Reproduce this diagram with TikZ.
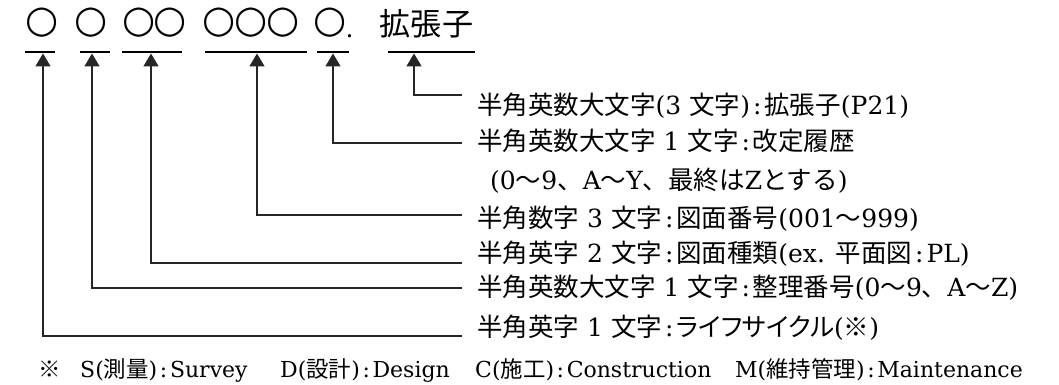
\documentclass[tikz,border=0pt]{standalone}
\usepackage{fontspec}
\setmainfont{DejaVu Serif}
\newfontfamily\jp[Scale=1.02]{Noto Sans CJK JP}
\newfontfamily\jpp[Scale=1.02,RawFeature=+palt]{Noto Sans CJK JP}
\newfontfamily\dvs{DejaVu Sans}
\usetikzlibrary{arrows.meta}
\newcommand\J[1]{{\jp #1}}
\newcommand\JP[1]{{\jpp #1}}
\newcommand\cl{\hspace{0.12em}:\hspace{0.12em}}
\begin{document}
\begin{tikzpicture}[x=1pt,y=-1pt,
  circ/.style={font=\dvs\fontsize{38}{38}\selectfont, inner sep=0pt, anchor=base},
  top/.style={font=\jp\fontsize{30.5}{30.5}\selectfont, inner sep=0pt, anchor=base},
  body/.style={font=\fontsize{25}{25}\selectfont, inner sep=0pt, anchor=base west},
  note/.style={font=\fontsize{22}{22}\selectfont, inner sep=0pt, anchor=base west},
  conn/.style={line width=1.8pt, draw=black!85, -{Triangle[length=13pt,width=15pt]}},
  uline/.style={line width=2.4pt, draw=black}]
\useasboundingbox (0,0) rectangle (1059,385);
% top row
\node[circ] (c1) at (41.7,32.6) {○};
\node[circ] (c2) at (90.8,32.6) {○};
\node[circ] (c3a) at (139,32.6) {○};
\node[circ] (c3b) at (169.6,32.6) {○};
\node[circ] (c4a) at (219,32.6) {○};
\node[circ] (c4b) at (251,32.6) {○};
\node[circ] (c4c) at (283,32.6) {○};
\node[circ] (c5) at (330,32.6) {○};
\node[top, font=\fontsize{25}{25}\selectfont] (dot) at (349.5,38) {.};
\node[top] (ext) at (426.5,36) {拡張子};
% underlines
\draw[uline] (25,52) -- (55,52);
\draw[uline] (80,52) -- (110,52);
\draw[uline] (122,52) -- (182,52);
\draw[uline] (205,52) -- (307,52);
\draw[uline] (317,52) -- (349,52);
\draw[uline] (388,52) -- (475,52);
% arrow tips
\coordinate (a1) at (43,53.5);
\coordinate (a2) at (92,53.5);
\coordinate (a3) at (151,53.5);
\coordinate (a4) at (257,53.5);
\coordinate (a5) at (333,53.5);
\coordinate (a6) at (414,53.5);
% line ends
\coordinate (e6) at (462,95);
\coordinate (e5) at (462,143);
\coordinate (e4) at (462,215);
\coordinate (e3) at (462,263);
\coordinate (e2) at (462,288);
\coordinate (e1) at (462,336);
\draw[conn] (e6) -| (a6);
\draw[conn] (e5) -| (a5);
\draw[conn] (e4) -| (a4);
\draw[conn] (e3) -| (a3);
\draw[conn] (e2) -| (a2);
\draw[conn] (e1) -| (a1);
% texts
\node[body] (t1) at (477,114) {\J{半角英数大文字}(3 \J{文字})\cl\J{拡張子}(P21)};
\node[body] (t2) at (477,150) {\J{半角英数大文字} 1 \J{文字}\cl\J{改定履歴}};
\node[body] (t3) at (490,189) {(0\J{〜}9\J{、}A\J{〜}Y\J{、最終は}Z\J{とする})};
\node[body] (t4) at (477,227) {\J{半角数字} 3 \J{文字}\cl\J{図面番号}(001\J{〜}999)};
\node[body] (t5) at (477,262) {\J{半角英字} 2 \J{文字}\cl\J{図面種類}(ex. \J{平面図}\cl PL)};
\node[body] (t6) at (477,296) {\J{半角英数大文字} 1 \J{文字}\cl\J{整理番号}(0\J{〜}9\J{、}A\J{〜}Z)};
\node[body] (t7) at (477,336) {\J{半角英字} 1 \J{文字}\cl\JP{ライフサイクル}(\J{※})};
% footnote
\node[note, anchor=base] (n0) at (50,377) {\J{※}};
\node[note] (n1) at (80,377) {S(\J{測量})\cl Survey};
\node[note] (n2) at (280,377) {D(\J{設計})\cl Design};
\node[note] (n3) at (475,377) {C(\J{施工})\cl Construction};
\node[note] (n4) at (735,377) {M(\J{維持管理})\cl Maintenance};
\end{tikzpicture}
\end{document}
